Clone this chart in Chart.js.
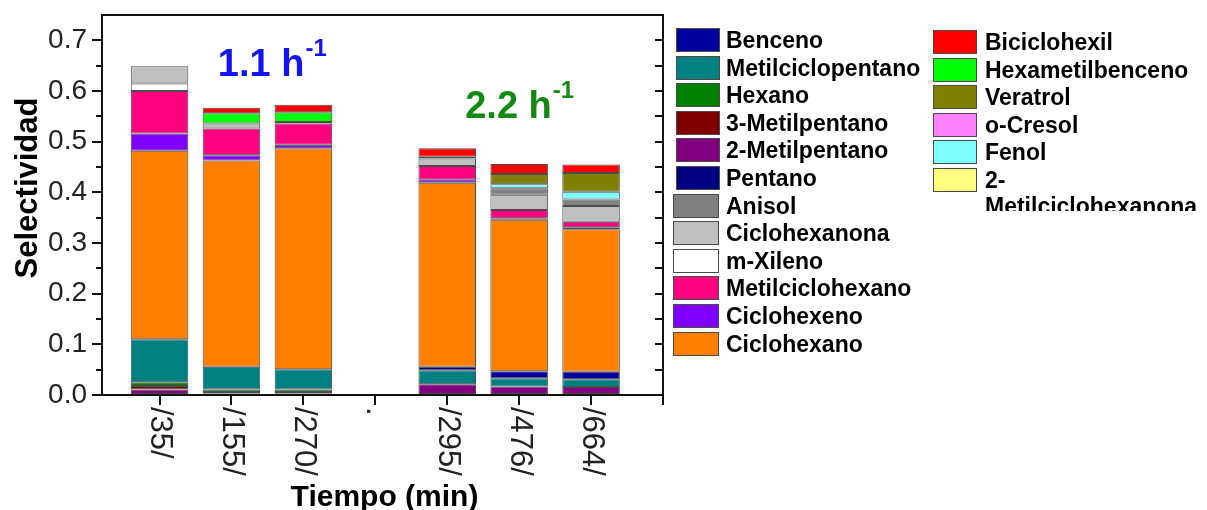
<!DOCTYPE html>
<html>
<head>
<meta charset="utf-8">
<script src="https://cdn.jsdelivr.net/npm/chart.js@4.4.1/dist/chart.umd.min.js"></script>
<style>
  html, body { margin: 0; padding: 0; background: #fff; }
  #wrap { position: relative; width: 1207px; height: 510px; overflow: hidden; background: #fff; }
  #c { position: absolute; left: 0; top: 0; }
  .col { position: absolute; left: 0; top: 0; width: 1207px; overflow: hidden; }
  .sw { position: absolute; box-sizing: border-box; height: 24px; border: 1px solid #4a4a4a; }
  .lbl { position: absolute; font: bold 23px "Liberation Sans", Arial, sans-serif; color: #000; line-height: 26px; }
</style>
</head>
<body>
<div id="wrap">
  <canvas id="c" width="1207" height="510"></canvas>
  <div id="legend"></div>
</div>
<script>
// Sample times (min); '.' marks the gap between the two space velocities
const categories = ['/35/', '/155/', '/270/', '.', '/295/', '/476/', '/664/'];

// Selectivity per product at each sample (stacked bottom to top in this order)
const dosMetilpentano      = [0.011, 0.003, 0.003, null, 0.021, 0.017, 0.016];
const tresMetilpentano     = [0.007, 0.003, 0.003, null, 0,     0,     0    ];
const hexano               = [0.007, 0.005, 0.005, null, 0,     0,     0    ];
const metilciclopentano    = [0.085, 0.045, 0.040, null, 0.028, 0.016, 0.015];
const pentano              = [0,     0,     0,     null, 0.007, 0,     0    ];
const benceno              = [0,     0,     0,     null, 0,     0.014, 0.015];
const ciclohexano          = [0.372, 0.407, 0.436, null, 0.363, 0.299, 0.281];
const ciclohexeno          = [0.034, 0.010, 0.007, null, 0.006, 0.003, 0.004];
const metilciclohexano     = [0.084, 0.053, 0.042, null, 0.027, 0.016, 0.011];
const mXileno              = [0.015, 0,     0,     null, 0,     0,     0    ];
const ciclohexanona        = [0.034, 0.010, 0.003, null, 0.015, 0.030, 0.031];
const anisol               = [0,     0,     0,     null, 0.003, 0.013, 0.013];
const fenol                = [0,     0,     0,     null, 0,     0.008, 0.015];
const oCresol              = [0,     0,     0,     null, 0,     0,     0    ];
const metilciclohexanona2  = [0,     0,     0,     null, 0,     0,     0    ];
const veratrol             = [0,     0,     0,     null, 0,     0.020, 0.037];
const hexametilbenceno     = [0,     0.020, 0.019, null, 0,     0,     0    ];
const biciclohexil         = [0,     0.011, 0.015, null, 0.017, 0.020, 0.017];

const series = [
  ['2-Metilpentano',       '#800080', dosMetilpentano],
  ['3-Metilpentano',       '#800000', tresMetilpentano],
  ['Hexano',               '#008000', hexano],
  ['Metilciclopentano',    '#008080', metilciclopentano],
  ['Pentano',              '#000080', pentano],
  ['Benceno',              '#0000A0', benceno],
  ['Ciclohexano',          '#FF8000', ciclohexano],
  ['Ciclohexeno',          '#8000FF', ciclohexeno],
  ['Metilciclohexano',     '#FF0080', metilciclohexano],
  ['m-Xileno',             '#FFFFFF', mXileno],
  ['Ciclohexanona',        '#C0C0C0', ciclohexanona],
  ['Anisol',               '#808080', anisol],
  ['Fenol',                '#80FFFF', fenol],
  ['o-Cresol',             '#FF80FF', oCresol],
  ['2-Metilciclohexanona', '#FFFF80', metilciclohexanona2],
  ['Veratrol',             '#808000', veratrol],
  ['Hexametilbenceno',     '#00FF00', hexametilbenceno],
  ['Biciclohexil',         '#FF0000', biciclohexil]
];

const legendColumns = [
  ['Benceno', 'Metilciclopentano', 'Hexano', '3-Metilpentano', '2-Metilpentano', 'Pentano',
   'Anisol', 'Ciclohexanona', 'm-Xileno', 'Metilciclohexano', 'Ciclohexeno', 'Ciclohexano'],
  ['Biciclohexil', 'Hexametilbenceno', 'Veratrol', 'o-Cresol', 'Fenol', '2-Metilciclohexanona']
];

const yTitle = 'Selectividad';
const xTitle = 'Tiempo (min)';
const velocityLabels = [
  { text: '1.1 h', sup: '-1', x: 0.81, y: 0.629, color: '#1414ee' },
  { text: '2.2 h', sup: '-1', x: 4.25, y: 0.547, color: '#128a12' }
];

const FONT = '"Liberation Sans", Arial, sans-serif';
Chart.defaults.font.family = FONT;

const datasets = series.map(([name, color, vals]) => ({
  label: name,
  data: vals.map((v, i) => ({ x: i, y: v })).filter(p => p.y !== null && p.y > 0),
  backgroundColor: color,
  borderColor: 'rgba(45,45,45,0.85)',
  borderWidth: 1,
  borderSkipped: false,
  barPercentage: 0.8,
  categoryPercentage: 1
}));

// Frame, extra tick marks, rotated category labels, titles and space-velocity notes
const axisDecor = {
  id: 'axisDecor',
  afterDraw(chart) {
    const { ctx, chartArea: a, scales: { x, y } } = chart;
    ctx.save();
    ctx.strokeStyle = '#111';
    ctx.lineWidth = 2;
    const seg = (x1, y1, x2, y2) => { ctx.beginPath(); ctx.moveTo(x1, y1); ctx.lineTo(x2, y2); ctx.stroke(); };
    seg(a.left - 1, a.top, a.right + 1, a.top);
    seg(a.right, a.top, a.right, a.bottom);
    // minor ticks on the left axis
    for (let k = 0; k < 7; k++) {
      const py = Math.round(y.getPixelForValue(0.05 + k * 0.1));
      seg(a.left - 6, py, a.left, py);
    }
    // inward ticks on the right axis
    for (let k = 1; k < 15; k++) {
      const py = Math.round(y.getPixelForValue(k * 0.05));
      seg(a.right - 8, py, a.right, py);
    }
    // category labels, reading downward
    ctx.fillStyle = '#222';
    ctx.font = '31px ' + FONT;
    ctx.textAlign = 'left';
    ctx.textBaseline = 'middle';
    categories.forEach((c, i) => {
      const px = x.getPixelForValue(i);
      ctx.save();
      ctx.translate(px, a.bottom + 12);
      ctx.rotate(Math.PI / 2);
      ctx.fillText(c, 0, 0);
      ctx.restore();
    });
    // axis titles
    ctx.fillStyle = '#000';
    ctx.font = 'bold 30px ' + FONT;
    ctx.textAlign = 'center';
    ctx.textBaseline = 'alphabetic';
    ctx.fillText(xTitle, (a.left + a.right) / 2 + 2, 506);
    ctx.save();
    ctx.translate(37, 188);
    ctx.rotate(-Math.PI / 2);
    ctx.font = 'bold 31px ' + FONT;
    ctx.fillText(yTitle, 0, 0);
    ctx.restore();
    // space-velocity notes
    velocityLabels.forEach(l => {
      const px = x.getPixelForValue(l.x);
      const py = y.getPixelForValue(l.y);
      ctx.fillStyle = l.color;
      ctx.textAlign = 'left';
      ctx.font = 'bold 38px ' + FONT;
      ctx.fillText(l.text, px, py);
      const w = ctx.measureText(l.text).width;
      ctx.font = 'bold 24px ' + FONT;
      ctx.fillText(l.sup, px + w + 1, py - 20);
    });
    ctx.restore();
  }
};

new Chart(document.getElementById('c'), {
  type: 'bar',
  data: { datasets },
  options: {
    responsive: false,
    animation: false,
    devicePixelRatio: 1,
    events: [],
    layout: { padding: { top: 15, right: 544, left: 0, bottom: 0 } },
    plugins: { legend: { display: false }, tooltip: { enabled: false } },
    scales: {
      x: {
        type: 'linear',
        stacked: true,
        offset: false,
        min: -0.8,
        max: 7,
        afterBuildTicks: s => { s.ticks = categories.map((_, i) => ({ value: i })).concat([{ value: categories.length }]); },
        afterFit: s => { s.height = 115; s.paddingLeft = 0; s.paddingRight = 0; },
        ticks: { display: false },
        grid: { offset: false, drawOnChartArea: false, drawTicks: true, tickLength: 10, color: '#111', lineWidth: 2 },
        border: { display: true, color: '#111', width: 2 }
      },
      y: {
        type: 'linear',
        stacked: true,
        min: 0,
        max: 0.75,
        afterFit: s => { s.width = 102; s.paddingTop = 0; s.paddingBottom = 0; },
        ticks: {
          stepSize: 0.1,
          includeBounds: false,
          padding: 5,
          color: '#222',
          font: { size: 28 },
          callback: v => Number(v).toFixed(1)
        },
        grid: { drawOnChartArea: false, drawTicks: true, tickLength: 10, color: '#111', lineWidth: 2 },
        border: { display: true, color: '#111', width: 2 }
      }
    }
  },
  plugins: [axisDecor]
});

// Two-column legend beside the plot
const colorOf = Object.fromEntries(series.map(([n, c]) => [n, c]));
const legendEl = document.getElementById('legend');
const colSpec = [
  { boxX: 676, textX: 726, firstY: 40, clip: 510 },
  { boxX: 933, textX: 985, firstY: 42, clip: 211 }
];
legendColumns.forEach((names, ci) => {
  const spec = colSpec[ci];
  const col = document.createElement('div');
  col.className = 'col';
  col.style.height = spec.clip + 'px';
  names.forEach((name, ri) => {
    const cy = spec.firstY + ri * 27.6;
    const sw = document.createElement('div');
    sw.className = 'sw';
    const shifted = ci === 0 && ri >= 6;
    sw.style.left = (shifted ? spec.boxX - 3 : spec.boxX) + 'px';
    sw.style.width = (shifted ? 46 : 44) + 'px';
    sw.style.top = (cy - 12) + 'px';
    sw.style.background = colorOf[name];
    const lb = document.createElement('div');
    lb.className = 'lbl';
    lb.style.left = spec.textX + 'px';
    lb.style.top = (cy - 13) + 'px';
    lb.style.width = (1207 - spec.textX) + 'px';
    lb.textContent = name;
    col.appendChild(sw);
    col.appendChild(lb);
  });
  legendEl.appendChild(col);
});
</script>
</body>
</html>
